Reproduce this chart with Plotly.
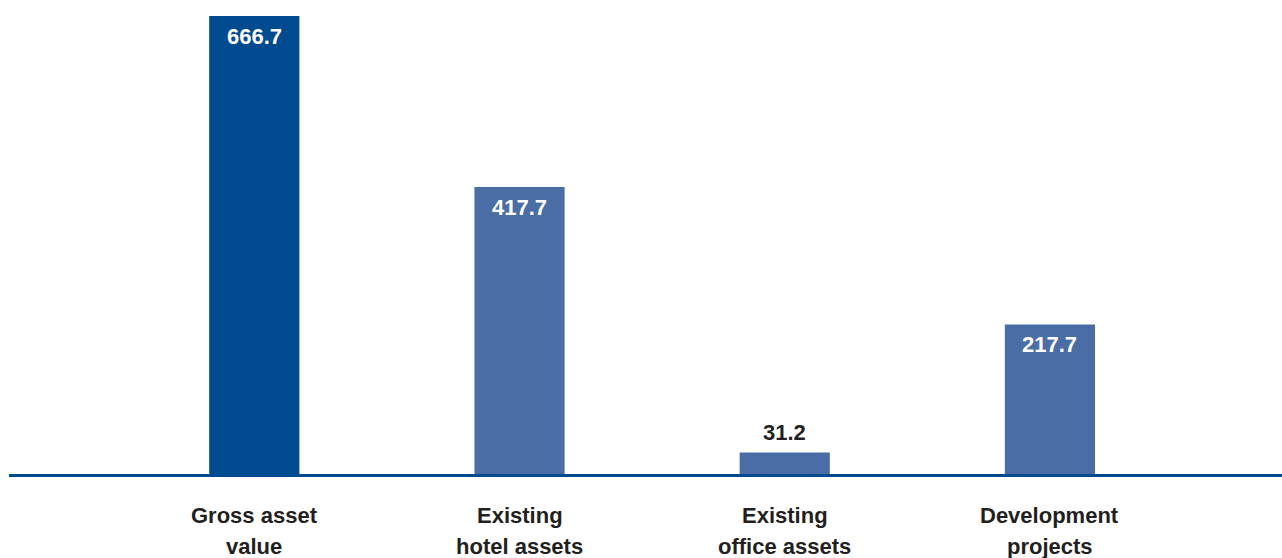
import plotly.graph_objects as go

categories = ["Gross asset<br>value", "Existing<br>hotel assets", "Existing<br>office assets", "Development<br>projects"]
values = [666.7, 417.7, 31.2, 217.7]
value_labels = ["666.7", "417.7", "31.2", "217.7"]
label_inside = [True, True, False, True]
bar_colors = ["#004a8f", "#4a6da6", "#4a6da6", "#4a6da6"]

DARK = "#231f20"
FONT = "Liberation Sans, Arial, Helvetica, sans-serif"

fig = go.Figure()
fig.add_trace(go.Bar(
    x=categories, y=values, width=0.34,
    marker=dict(color=bar_colors, line=dict(width=0)),
    hoverinfo="skip",
))

for c, v, t, inside in zip(categories, values, value_labels, label_inside):
    fig.add_annotation(
        x=c, y=v, text="<b>%s</b>" % t, showarrow=False,
        yanchor="top" if inside else "bottom",
        yshift=-6 if inside else 6,
        font=dict(family=FONT, size=22, color="white" if inside else DARK),
    )

# category labels, one annotation per line to match the wider line spacing
for c in categories:
    for i, line in enumerate(c.split("<br>")):
        fig.add_annotation(
            x=c, y=0, text="<b>%s</b>" % line, showarrow=False,
            yanchor="middle", yshift=-41 - 31 * i,
            font=dict(family=FONT, size=22, color=DARK),
        )

fig.update_layout(
    width=1282, height=558,
    margin=dict(l=9, r=0, t=0, b=84),
    paper_bgcolor="white", plot_bgcolor="white",
    showlegend=False,
    xaxis=dict(
        type="category", range=[-0.925, 3.875],
        showgrid=False, zeroline=False,
        showline=True, linecolor="#004a8f", linewidth=2.5,
        ticks="", showticklabels=False,
    ),
    yaxis=dict(
        range=[0, 690], visible=False, showgrid=False, zeroline=False,
    ),
)

fig.write_html("out.html")
